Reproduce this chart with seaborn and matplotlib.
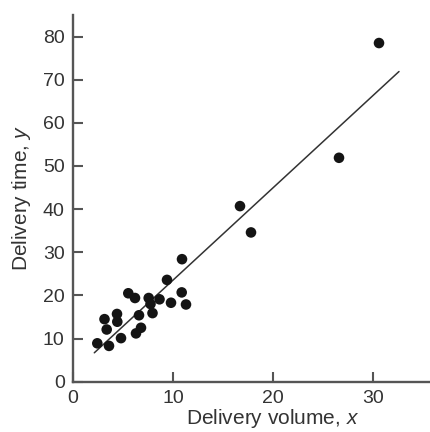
import matplotlib
matplotlib.use("Agg")
import matplotlib.pyplot as plt
import seaborn as sns
import pandas as pd

# Delivery volume (cases) and delivery time (minutes) for 25 deliveries
volume = [2.43, 3.6, 3.15, 3.37, 4.4, 4.43, 4.8, 5.53, 6.2, 6.6, 6.3, 6.8, 7.57,
          7.75, 7.95, 8.65, 9.4, 9.8, 10.9, 10.87, 11.3, 16.7, 17.8, 26.6, 30.6]
time = [8.9, 8.3, 14.5, 12.1, 15.7, 13.9, 10.1, 20.5, 19.4, 15.4, 11.2, 12.5, 19.4,
        18.0, 15.9, 19.1, 23.6, 18.3, 28.4, 20.7, 17.9, 40.7, 34.6, 51.9, 78.5]

# Fitted straight line, given by its two end points
fit_x = [2.13, 32.6]
fit_y = [6.7, 71.9]

x_ticks = [0, 10, 20, 30]
y_ticks = [0, 10, 20, 30, 40, 50, 60, 70, 80]

sns.set_style("ticks")
plt.rcParams["font.family"] = ["Liberation Sans", "DejaVu Sans"]
plt.rcParams["mathtext.fontset"] = "custom"
plt.rcParams["mathtext.it"] = "Liberation Sans:italic"
plt.rcParams["mathtext.rm"] = "Liberation Sans"

df = pd.DataFrame({"volume": volume, "time": time})
fit = pd.DataFrame({"x": fit_x, "y": fit_y})

fig = plt.figure(figsize=(4.31, 4.32), dpi=100)
ax = fig.add_axes([73 / 431, 50.3 / 432, 400 / 431, 366.7 / 432])

sns.lineplot(data=fit, x="x", y="y", ax=ax, color="#333333", linewidth=1.1)
sns.scatterplot(data=df, x="volume", y="time", ax=ax, color="#141414",
                s=58, edgecolor="none", zorder=3)

ax.set_xlim(0, 40)
ax.set_ylim(0, 85)
ax.set_xticks(x_ticks)
ax.set_yticks(y_ticks)

sns.despine(ax=ax)
for side in ("left", "bottom"):
    ax.spines[side].set_linewidth(1.7)
    ax.spines[side].set_color("#555555")

ax.tick_params(direction="in", length=7, width=1.5, color="#555555",
               labelsize=14, labelcolor="#333333", pad=6)

ax.set_xlabel("Delivery volume, $\\mathit{x}$", fontsize=15, color="#333333")
ax.set_ylabel("Delivery time, $\\mathit{y}$", fontsize=15, color="#333333")
ax.xaxis.set_label_coords(0.5, -0.068)
ax.yaxis.set_label_coords(-0.10, 0.5)

fig.savefig("out.png", dpi=100)
